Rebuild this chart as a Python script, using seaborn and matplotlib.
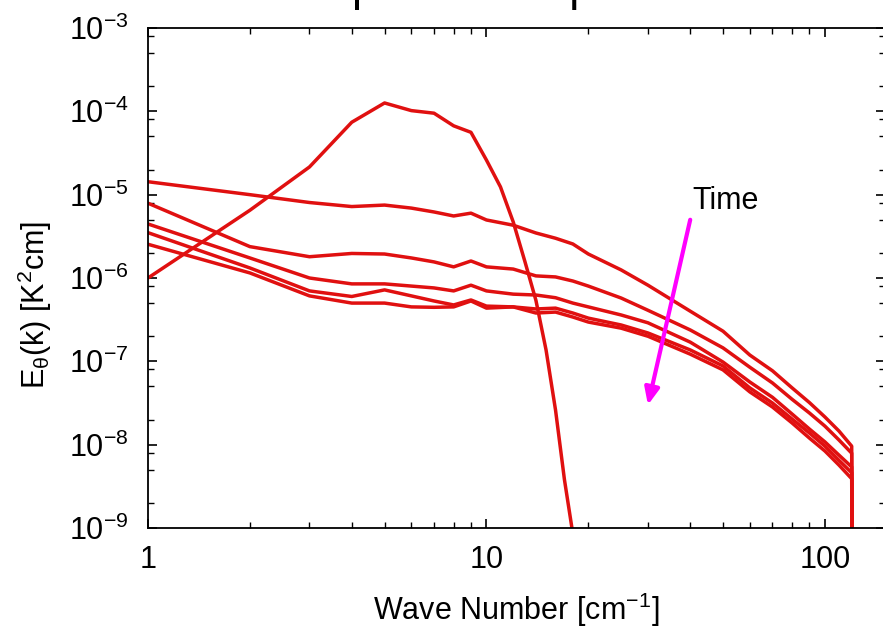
import numpy as np
import pandas as pd
import matplotlib
matplotlib.use("Agg")
import matplotlib.pyplot as plt
from matplotlib.ticker import FixedLocator, LogLocator, NullFormatter, FuncFormatter
import seaborn as sns

# ---------------- data ----------------
k_init = [1, 2, 3, 4, 5, 6, 7, 8, 9, 10, 11, 12, 13, 14, 15, 16, 17, 18, 19]
E_init = [1.0e-6, 6.5e-6, 2.15e-5, 7.4e-5, 1.26e-4, 1.02e-4, 9.5e-5, 6.7e-5, 5.6e-5,
          2.6e-5, 1.24e-5, 4.7e-6, 1.56e-6, 5.4e-7, 1.37e-7, 2.6e-8, 3.8e-9, 8.5e-10, 1e-11]

k_later = [1, 2, 3, 4, 5, 6, 7, 8, 9, 10, 12, 14, 16, 18, 20, 25, 30, 40, 50, 60, 70,
           80, 90, 100, 110, 120, 121]
E_t1 = [1.43e-5, 1.0e-5, 8.05e-6, 7.2e-6, 7.5e-6, 6.9e-6, 6.2e-6, 5.55e-6, 6.0e-6, 4.97e-6,
        4.3e-6, 3.47e-6, 3.0e-6, 2.56e-6, 1.94e-6, 1.25e-6, 8.2e-7, 4.0e-7, 2.3e-7, 1.19e-7,
        7.7e-8, 4.8e-8, 3.2e-8, 2.15e-8, 1.46e-8, 9.6e-9, 1e-12]
E_t2 = [7.9e-6, 2.38e-6, 1.8e-6, 1.97e-6, 1.94e-6, 1.74e-6, 1.56e-6, 1.36e-6, 1.6e-6, 1.36e-6,
        1.28e-6, 1.06e-6, 1.03e-6, 9.2e-7, 8.0e-7, 5.75e-7, 4.1e-7, 2.38e-7, 1.45e-7, 8.5e-8,
        5.5e-8, 3.5e-8, 2.4e-8, 1.67e-8, 1.14e-8, 7.9e-9, 1e-12]
E_t3 = [4.45e-6, 1.74e-6, 1.0e-6, 8.5e-7, 8.5e-7, 8.0e-7, 7.6e-7, 7.0e-7, 8.2e-7, 7.0e-7,
        6.4e-7, 6.25e-7, 5.8e-7, 5.0e-7, 4.5e-7, 3.6e-7, 2.9e-7, 1.7e-7, 9.8e-8, 5.65e-8,
        3.7e-8, 2.33e-8, 1.54e-8, 1.08e-8, 7.5e-9, 5.4e-9, 1e-12]
E_t4 = [3.5e-6, 1.32e-6, 7.0e-7, 6.0e-7, 7.2e-7, 6.1e-7, 5.3e-7, 4.75e-7, 5.45e-7, 4.6e-7,
        4.5e-7, 4.25e-7, 4.35e-7, 3.8e-7, 3.3e-7, 2.73e-7, 2.19e-7, 1.37e-7, 8.8e-8, 4.8e-8,
        3.16e-8, 2.03e-8, 1.38e-8, 9.6e-9, 6.5e-9, 4.6e-9, 1e-12]
E_t5 = [2.54e-6, 1.15e-6, 6.1e-7, 5.0e-7, 5.0e-7, 4.5e-7, 4.45e-7, 4.5e-7, 5.3e-7, 4.35e-7,
        4.5e-7, 3.8e-7, 3.9e-7, 3.4e-7, 2.96e-7, 2.5e-7, 2.0e-7, 1.22e-7, 7.9e-8, 4.3e-8,
        2.83e-8, 1.82e-8, 1.2e-8, 8.4e-9, 5.7e-9, 3.9e-9, 1e-12]

x_ticks = [1, 10, 100]
x_tick_labels = ["1", "10", "100"]
y_ticks = [1e-9, 1e-8, 1e-7, 1e-6, 1e-5, 1e-4, 1e-3]
y_tick_labels = ["10$^{-9}$", "10$^{-8}$", "10$^{-7}$", "10$^{-6}$",
                 "10$^{-5}$", "10$^{-4}$", "10$^{-3}$"]

arrow_start = (40, 5.0e-6)
arrow_end = (30, 3.0e-8)
arrow_label = "Time"

title = "Temperature Spectrum"
xlabel = "Wave Number [cm$^{-1}$]"
ylabel = "E$_{θ}$(k) [K$^{2}$cm]"

# ---------------- frame ----------------
frames = [pd.DataFrame({"k": k_init, "E": E_init, "t": "t0"})]
for name, vals in [("t1", E_t1), ("t2", E_t2), ("t3", E_t3), ("t4", E_t4), ("t5", E_t5)]:
    frames.append(pd.DataFrame({"k": k_later, "E": vals, "t": name}))
df = pd.concat(frames, ignore_index=True)

# ---------------- style ----------------
sns.set_theme(style="ticks")
plt.rcParams["font.family"] = ["Liberation Sans", "DejaVu Sans"]
plt.rcParams["mathtext.default"] = "regular"
plt.rcParams["axes.linewidth"] = 1.3

W, H = 883, 633
fig = plt.figure(figsize=(W / 100, H / 100), dpi=100)
left, right, bottom, top = 148, 884.5, 105, 605
ax = fig.add_axes([left / W, bottom / H, (right - left) / W, (top - bottom) / H])

red = "#E01010"
sns.lineplot(data=df, x="k", y="E", hue="t", units="t", estimator=None, sort=False,
             palette=[red] * 6, linewidth=2.5, legend=False, ax=ax)

ax.set_xscale("log")
ax.set_yscale("log")
ax.set_xlim(1, 150)
ax.set_ylim(1e-9, 1e-3)

ax.xaxis.set_major_locator(FixedLocator(x_ticks))
ax.set_xticklabels(x_tick_labels)
ax.xaxis.set_minor_locator(LogLocator(base=10, subs=(2, 3, 4, 5, 6, 7, 8, 9), numticks=20))
ax.xaxis.set_minor_formatter(NullFormatter())
ax.yaxis.set_major_locator(FixedLocator(y_ticks))
ax.set_yticklabels(y_tick_labels)
ax.yaxis.set_minor_locator(LogLocator(base=10, subs=(2, 5, 8), numticks=20))
ax.yaxis.set_minor_formatter(NullFormatter())

ax.tick_params(which="both", direction="in", top=True, right=True, color="black",
               labelsize=22, labelcolor="black")
ax.tick_params(which="major", length=6.5, width=1.2)
ax.tick_params(which="minor", length=4, width=1.0)
ax.tick_params(axis="y", which="major", pad=14)
ax.tick_params(axis="x", which="major", pad=12)
for s in ax.spines.values():
    s.set_color("black")

ax.set_xlabel(xlabel, fontsize=22, color="black")
ax.xaxis.label.set_va("center")
ax.xaxis.set_label_coords(0.5, -0.164)
ax.set_ylabel(ylabel, fontsize=22, color="black")
ax.yaxis.label.set_va("center")
ax.yaxis.set_label_coords(-0.153, 0.446)

ax.annotate("", xy=arrow_end, xytext=arrow_start,
            arrowprops=dict(arrowstyle="-|>,head_length=0.5,head_width=0.22",
                            color="#FF00FF", lw=3, mutation_scale=20,
                            shrinkA=0, shrinkB=0))
ax.text(40.5, 8.4e-6, arrow_label, fontsize=22, color="black", ha="left", va="center")

fig.text(501 / W, 1.0, title, fontsize=33.5, ha="center", va="baseline", color="black")

fig.savefig("out.png", dpi=100)
